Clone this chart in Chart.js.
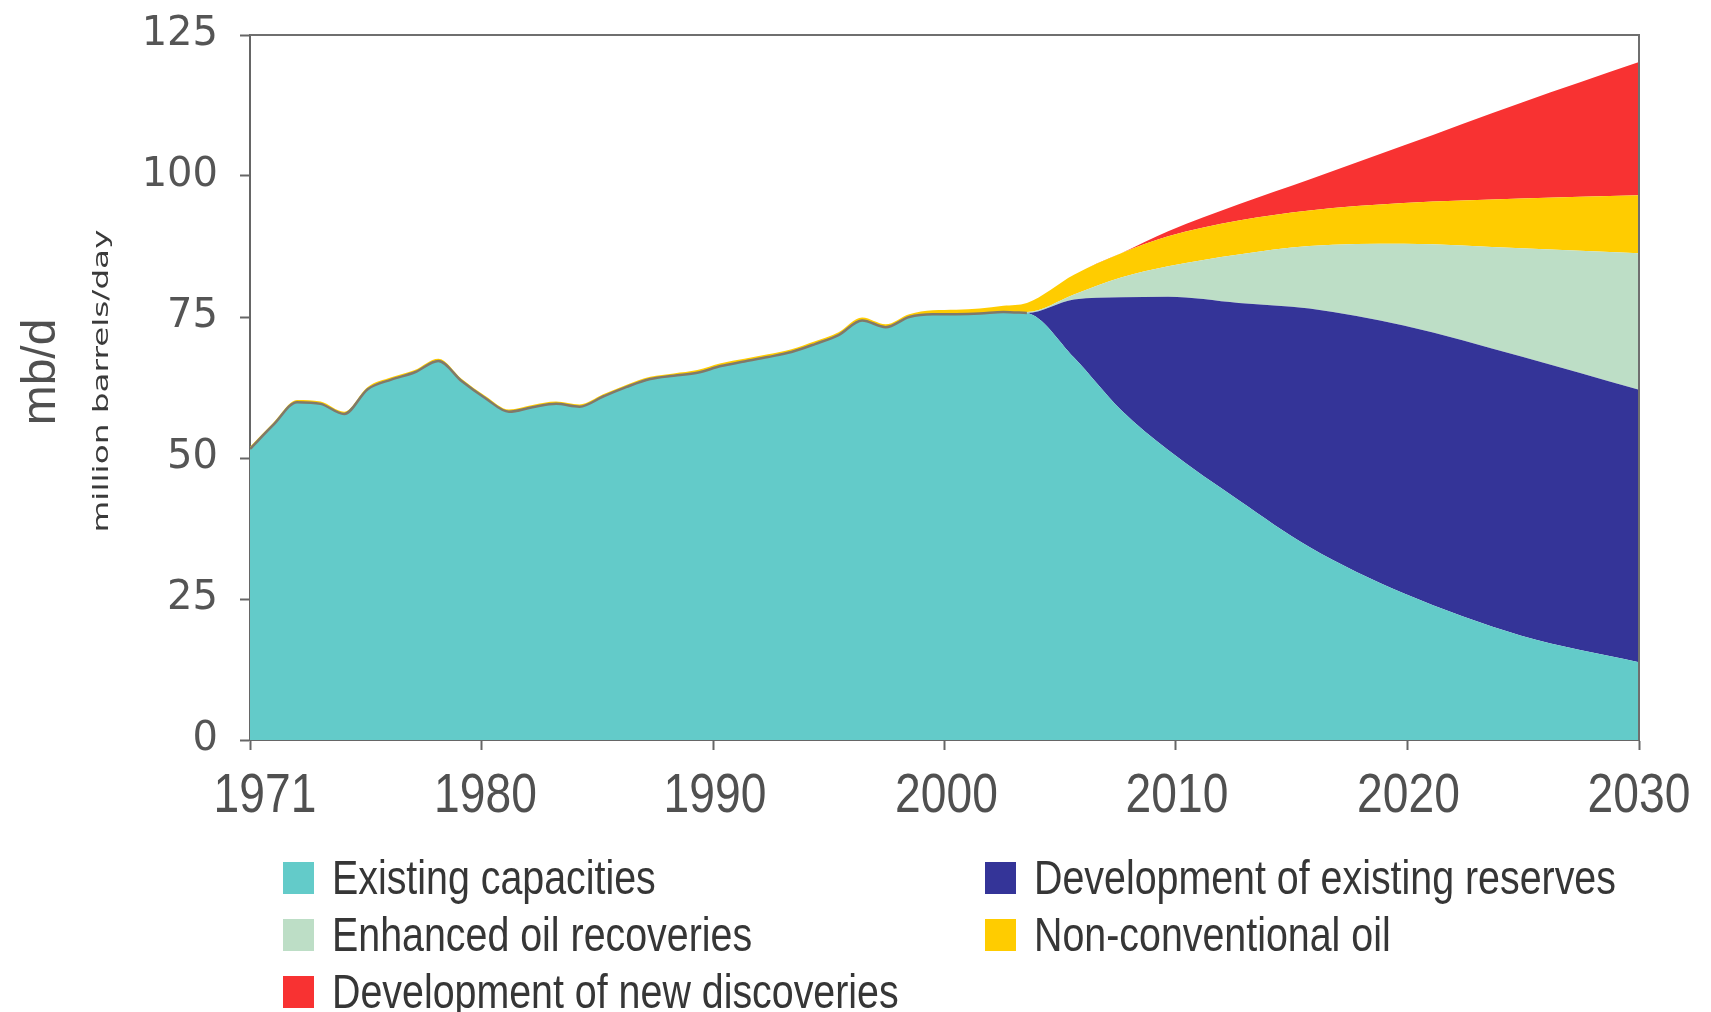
<!DOCTYPE html>
<html><head><meta charset="utf-8">
<script src="https://cdn.jsdelivr.net/npm/chart.js@4.4.1/dist/chart.umd.min.js"></script>
<style>html,body{margin:0;padding:0;background:#fff;overflow:hidden}canvas{display:block}</style>
</head><body>
<canvas id="c" width="1711" height="1012"></canvas>
<script>
// ---- data ----
const years = [1971,1972,1973,1974,1975,1976,1977,1978,1979,1980,
  1981,1982,1983,1984,1985,1986,1987,1988,1989,1990,
  1991,1992,1993,1994,1995,1996,1997,1998,1999,2000,
  2001,2002,2003,2004,2006,2008,2010,2013,2016,2020,2025,2030];

const existingCapacities = [51.6,55.9,59.9,59.6,57.8,62.2,63.9,65.2,67.2,63.6,
  60.6,58.2,59.0,59.6,59.1,60.9,62.6,64.0,64.6,65.1,
  66.3,67.1,67.9,68.8,70.2,71.8,74.4,73.2,75.0,75.5,
  75.5,75.6,75.9,75.7,67.8,58.5,51.4,42.5,34.2,26.0,18.5,13.8];

const existingReserves = [0,0,0,0,0,0,0,0,0,0,
  0,0,0,0,0,0,0,0,0,0,
  0,0,0,0,0,0,0,0,0,0,
  0,0,0,0,10.3,20.0,27.2,35.0,42.3,47.5,49.5,48.3];

const enhancedRecovery = [0,0,0,0,0,0,0,0,0,0,
  0,0,0,0,0,0,0,0,0,0,
  0,0,0,0,0,0,0,0,0,0,
  0,0,0,0.2,0.9,3.5,5.4,8.6,11.1,14.5,19.2,24.2];

const nonConventional = [0.4,0.4,0.4,0.4,0.4,0.4,0.4,0.4,0.4,0.4,
  0.4,0.4,0.4,0.4,0.4,0.4,0.4,0.4,0.4,0.5,
  0.5,0.5,0.5,0.5,0.5,0.5,0.5,0.5,0.5,0.7,
  0.8,0.9,1.1,1.6,3.5,4.3,5.3,6.0,6.3,7.2,8.8,10.3];

const newDiscoveries = [0,0,0,0,0,0,0,0,0,0,
  0,0,0,0,0,0,0,0,0,0,
  0,0,0,0,0,0,0,0,0,0,
  0,0,0,0,0,0,0.9,2.9,5.5,10.2,17.0,23.6];

const historyEndYear = 2004;
const seriesNames = ['Existing capacities','Development of existing reserves','Enhanced oil recoveries','Non-conventional oil','Development of new discoveries'];
const xTickLabels = ['1971','1980','1990','2000','2010','2020','2030'];
const yTicks = [0,25,50,75,100,125];
const yTitle = 'mb/d';
const ySubTitle = 'million barrels/day';

// ---- styles ----
const colors = ['#63cbc9','#343498','#bddec6','#ffcc00','#f83232'];
const xLabelNudge = [15, 4, 2, 2, 1, 1, 0];
const seriesValues = [existingCapacities, existingReserves, enhancedRecovery, nonConventional, newDiscoveries];
const xMin = years[0], xMax = years[years.length-1];

const datasets = seriesValues.map((vals, i) => ({
  label: seriesNames[i],
  data: years.map((yr, j) => ({x: yr, y: vals[j]})),
  backgroundColor: colors[i],
  borderColor: colors[i],
  borderWidth: 0,
  fill: i === 0 ? 'origin' : '-1',
  pointRadius: 0,
  cubicInterpolationMode: 'monotone'
}));
// outline along the top of the historical period
datasets.push({
  label: '_outline',
  stack: 'outline',
  order: -1,
  data: years.map((yr, j) => ({x: yr, y: existingCapacities[j]})).filter(p => p.x <= historyEndYear),
  borderColor: '#80796a',
  borderWidth: 2.5,
  fill: false,
  pointRadius: 0,
  cubicInterpolationMode: 'monotone'
});

// legend layout: [column x, row baseline]
const legendPos = [[283, 894],[985, 894],[283, 951],[985, 951],[283, 1008]];

function condensedText(ctx, text, x, y, sx, align) {
  ctx.save();
  ctx.translate(x, y);
  ctx.scale(sx, 1);
  ctx.textAlign = align;
  ctx.fillText(text, 0, 0);
  ctx.restore();
}

const extras = {
  id: 'extras',
  afterDraw(chart) {
    const {ctx, chartArea: a} = chart;
    ctx.save();
    ctx.strokeStyle = '#6f6f6f'; ctx.lineWidth = 2;
    ctx.beginPath(); ctx.moveTo(a.left, a.top); ctx.lineTo(a.right, a.top); ctx.lineTo(a.right, a.bottom); ctx.stroke();
    ctx.restore();

    // x tick labels (condensed)
    const xs = chart.scales.x;
    ctx.save();
    ctx.fillStyle = '#505050';
    ctx.font = '55px "Liberation Sans"';
    ctx.textBaseline = 'alphabetic';
    xs.ticks.forEach((t, i) => {
      condensedText(ctx, xTickLabels[i], xs.getPixelForValue(t.value) + xLabelNudge[i], a.bottom + 72, 0.84, 'center');
    });
    ctx.restore();

    // y titles
    ctx.save();
    ctx.fillStyle = '#505050';
    ctx.translate(55, 372); ctx.rotate(-Math.PI/2);
    ctx.font = '48px "Liberation Sans"'; ctx.textAlign = 'center'; ctx.textBaseline = 'alphabetic';
    ctx.fillText(yTitle, 0, 0);
    ctx.restore();
    ctx.save();
    ctx.fillStyle = '#3a3a3a';
    ctx.translate(108, 381); ctx.rotate(-Math.PI/2);
    ctx.font = '22px "DejaVu Sans"'; ctx.textAlign = 'center'; ctx.textBaseline = 'alphabetic';
    const w = ctx.measureText(ySubTitle).width;
    ctx.scale(303 / w, 1);
    ctx.fillText(ySubTitle, 0, 0);
    ctx.restore();

    // legend
    ctx.save();
    ctx.font = '48px "Liberation Sans"';
    ctx.textBaseline = 'alphabetic';
    chart.data.datasets.slice(0, seriesNames.length).forEach((ds, i) => {
      const [lx, ly] = legendPos[i];
      ctx.fillStyle = ds.backgroundColor;
      ctx.fillRect(lx, ly - 32, 31, 32);
      ctx.fillStyle = '#363636';
      condensedText(ctx, ds.label, lx + 49, ly, 0.82, 'left');
    });
    ctx.restore();
  }
};

new Chart(document.getElementById('c'), {
  type: 'line',
  data: { datasets },
  plugins: [extras],
  options: {
    responsive: false,
    animation: false,
    devicePixelRatio: 1,
    layout: { padding: { top: 35, right: 72, left: 0, bottom: 0 } },
    plugins: { legend: { display: false }, tooltip: { enabled: false } },
    elements: { point: { radius: 0 } },
    scales: {
      x: {
        type: 'linear', min: xMin, max: xMax,
        afterBuildTicks: s => { s.ticks = xTickLabels.map((t, i) => ({ value: xMin + i * (xMax - xMin) / (xTickLabels.length - 1) })); },
        afterFit: s => { s.height = 272; s.paddingLeft = 0; s.paddingRight = 0; },
        ticks: { display: false, autoSkip: false, maxRotation: 0 },
        grid: { drawOnChartArea: false, drawTicks: true, tickLength: 10, tickColor: '#666', tickWidth: 2 },
        border: { display: true, color: '#666', width: 2 }
      },
      y: {
        stacked: true, min: 0, max: 125,
        afterBuildTicks: s => { s.ticks = yTicks.map(v => ({ value: v })); },
        afterFit: s => { s.width = 250; s.paddingTop = 0; s.paddingBottom = 0; },
        ticks: { padding: 22, color: '#555', font: { family: '"DejaVu Sans"', size: 40 } },
        grid: { drawOnChartArea: false, drawTicks: true, tickLength: 10, tickColor: '#666', tickWidth: 2 },
        border: { display: true, color: '#666', width: 2 }
      }
    }
  }
});
</script>
</body></html>
